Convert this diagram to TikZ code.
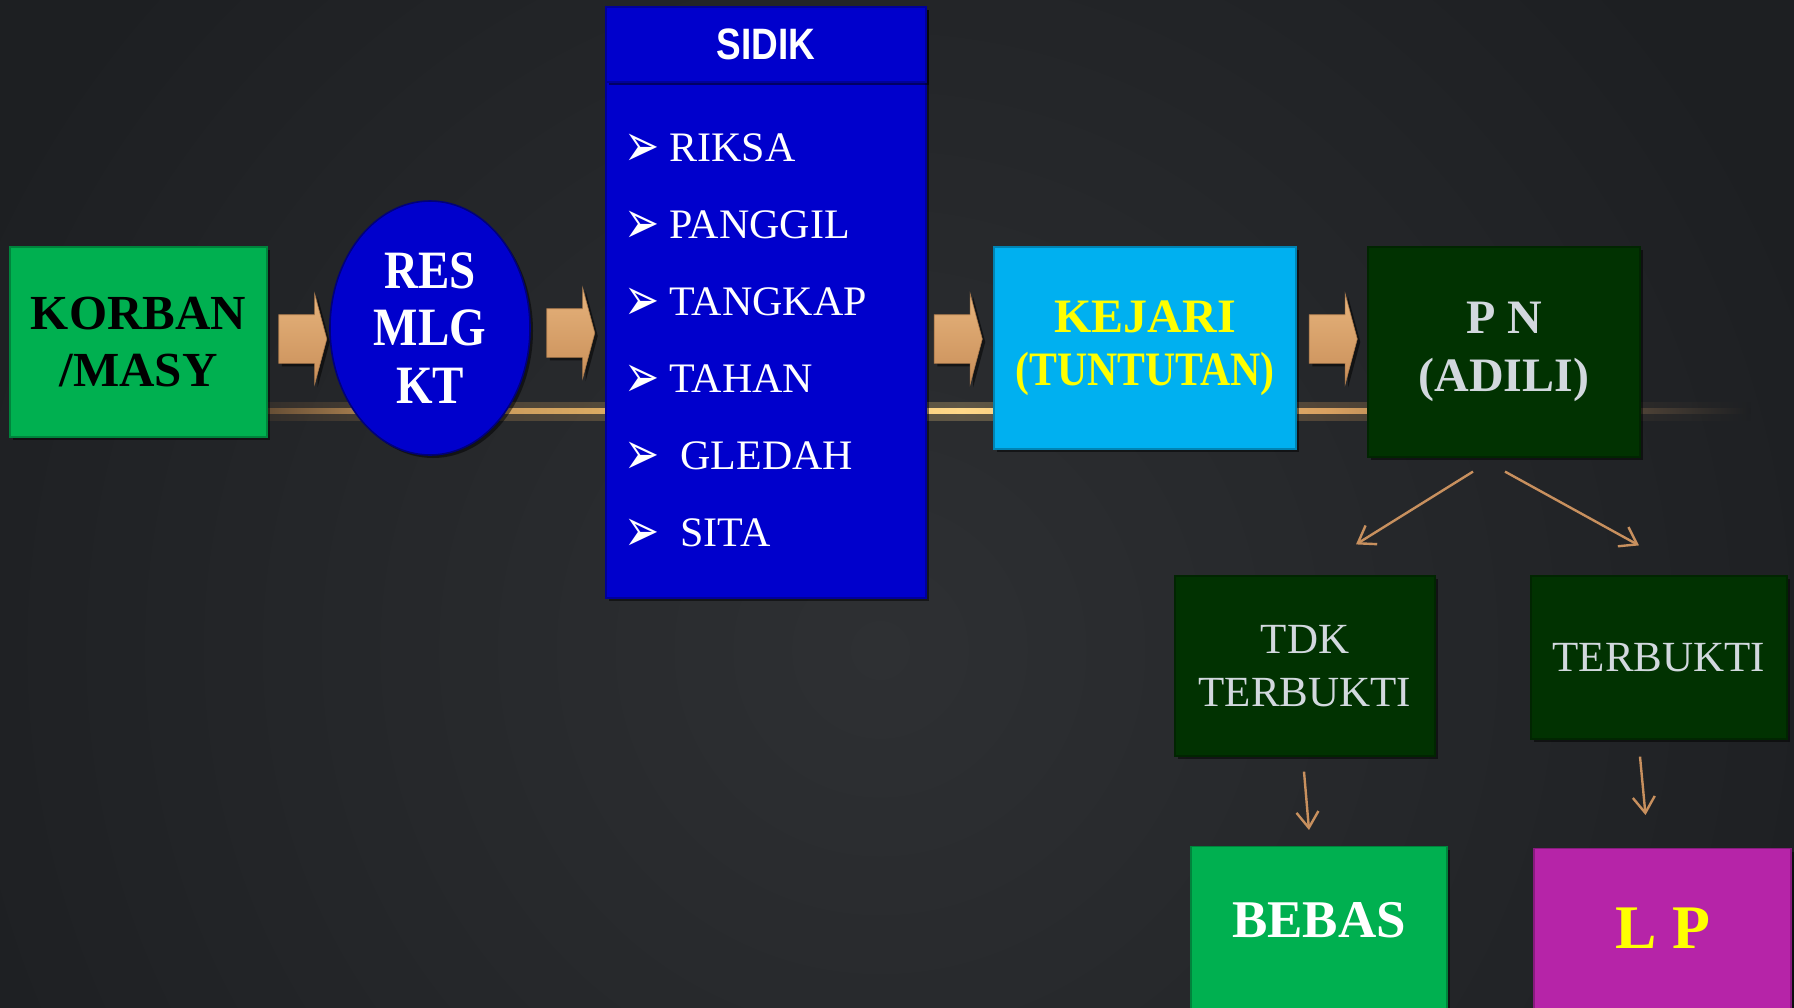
\documentclass[tikz,border=0pt]{standalone}
\usepackage{fontspec}
\setmainfont{Liberation Serif}
\newfontfamily\sempit[FakeStretch=0.87]{Liberation Serif}
\newfontfamily\sempitsans[FakeStretch=0.84]{Liberation Sans}
\newfontfamily\simbol{DejaVu Sans}
\usetikzlibrary{shapes.geometric,shapes.arrows,shadows,arrows.meta,fadings}

\definecolor{latar}{HTML}{1D1F22}
\definecolor{latarterang}{HTML}{2E3033}
\definecolor{pita}{HTML}{505256}
\definecolor{hijau}{HTML}{00B050}
\definecolor{biru}{HTML}{0000CC}
\definecolor{langit}{HTML}{00B0F0}
\definecolor{kuning}{HTML}{FFFF00}
\definecolor{hijautua}{HTML}{013201}
\definecolor{ungu}{HTML}{B624A8}
\definecolor{abu}{HTML}{D2D8DE}
\definecolor{tanmuda}{HTML}{E6B37C}
\definecolor{tantua}{HTML}{C98F59}
\definecolor{tantipis}{HTML}{C8905E}
\definecolor{g1}{HTML}{5A4530}
\definecolor{g2}{HTML}{C09058}
\definecolor{g3}{HTML}{E8B868}
\definecolor{g4}{HTML}{FFD888}
\definecolor{g5}{HTML}{D8A060}
\definecolor{g6}{HTML}{4E4236}

\pgfdeclarehorizontalshading{cahaya}{100bp}{color(0bp)=(g1); color(25bp)=(g1); color(30bp)=(g2); color(40bp)=(g3); color(48.7bp)=(g4); color(61bp)=(g5); color(71.3bp)=(g6); color(75bp)=(latar); color(100bp)=(latar)}
\tikzfading[name=tepi, left color=transparent!100, middle color=transparent!0, right color=transparent!100]

\begin{document}
\begin{tikzpicture}[x=0.5pt,y=-0.5pt,
    bayang/.style={drop shadow={opacity=0.5, fill=black, shadow xshift=1.5pt, shadow yshift=-1.5pt}},
    kotak/.style={rectangle, fill=#1, draw=#1!75!black, line width=0.6pt, inner sep=0pt, align=center, bayang},
    panah/.style={single arrow, minimum height=24pt, minimum width=45pt, text height=12pt, text depth=12pt,
      single arrow head extend=10.5pt, single arrow tip angle=150, inner sep=0pt,
      top color=tanmuda, bottom color=tantua, draw=tantua!85!black, line width=0.3pt, bayang},
    butir/.style={inner sep=0pt, text=white, font=\fontsize{21}{24}\selectfont},
    tipis/.style={draw=tantipis, line width=1.2pt, -{Straight Barb[length=8pt,width=11pt]}}]
    \useasboundingbox (0,0) rectangle (1794,1007);
    \clip (0,0) rectangle (1794,1007);
    \fill[latar] (0,0) rectangle (1794,1007);
    \shade[inner color=latarterang, outer color=latar] (880,650) circle (1000);
    \shade[top color=latar, bottom color=pita, path fading=tepi, fill opacity=0.8] (240,250) rectangle (1740,408);
    \shade[shading=cahaya, opacity=0.25] (250,402) rectangle (1750,420);
    \shade[shading=cahaya] (250,408.5) rectangle (1750,413.5);

    \node[kotak=hijau, minimum width=128.5pt, minimum height=95pt,
      font=\bfseries\fontsize{24.5}{28.5}\selectfont] (korban) at (138.5,342) {KORBAN\\/MASY};
    \node[ellipse, fill=biru, draw=biru!60!black, line width=0.8pt, minimum width=100pt, minimum height=127pt,
      inner sep=0pt, align=center, text=white, font=\sempit\bfseries\fontsize{27}{28.75}\selectfont,
      bayang] (res) at (430,328) {RES\\MLG\\KT};

    \node[kotak=biru, minimum width=160pt, minimum height=295.5pt] (sidik) at (766,302.5) {};
    \node[kotak=biru, minimum width=160pt, minimum height=37.5pt, text=white,
      font=\sempitsans\bfseries\fontsize{22}{24}\selectfont] (judul) at (766,44.5) {SIDIK};
    \foreach \teks/\gx [count=\i] in {RIKSA/669, PANGGIL/669, TANGKAP/669, TAHAN/669, GLEDAH/680, SITA/680} {
      \node[butir, anchor=base west, font=\simbol\fontsize{21}{24}\selectfont] (b\i) at (624,{84+77*\i}) {\raisebox{-2.9pt}{\scalebox{1}[1.45]{➢}}};
      \node[butir, anchor=base west] (t\i) at (\gx,{84+77*\i}) {\teks};
    }

    \node[kotak=langit, minimum width=151pt, minimum height=101pt, text=kuning,
      font=\bfseries\fontsize{24}{26.5}\selectfont] (kejari) at (1145,348) {KEJARI\\{\sempit(TUNTUTAN)}};
    \node[kotak=hijautua, minimum width=136pt, minimum height=105pt, text=abu,
      font=\bfseries\fontsize{24}{29}\selectfont] (pn) at (1504,352) {P N\\(ADILI)};

    \node[panah] (p1) at (299.5,339) {};
    \node[panah] (p2) at (567.5,333) {};
    \node[panah] (p3) at (955,339) {};
    \node[panah] (p4) at (1330,339) {};

    \node[kotak=hijautua, minimum width=130pt, minimum height=90pt, text=abu,
      font=\fontsize{21.5}{26.5}\selectfont] (tdk) at (1305,666) {TDK\\TERBUKTI};
    \node[kotak=hijautua, minimum width=128pt, minimum height=81.5pt, text=abu,
      font=\fontsize{21.5}{26.5}\selectfont] (terbukti) at (1659,657.5) {TERBUKTI};
    \node[kotak=hijau, anchor=north, minimum width=128pt, text height=18pt, text depth=19pt, inner ysep=27.5pt,
      text=white, font=\bfseries\fontsize{26.5}{30}\selectfont] (bebas) at (1319,846) {BEBAS};
    \node[kotak=ungu, anchor=north, minimum width=128.5pt, text height=22pt, text depth=13pt, inner ysep=28pt,
      text=kuning, font=\bfseries\fontsize{31}{34}\selectfont] (lp) at (1662.5,848) {L P};

    \draw[tipis] ([xshift=-15.5pt,yshift=-7pt]pn.south) -- ([xshift=25.5pt,yshift=15.5pt]tdk.north);
    \draw[tipis] ([xshift=0.5pt,yshift=-7pt]pn.south) -- ([xshift=-10pt,yshift=15pt]terbukti.north);
    \draw[tipis] ([xshift=-0.5pt,yshift=-7.5pt]tdk.south) -- ([xshift=-5pt,yshift=8pt]bebas.north);
    \draw[tipis] ([xshift=-9.5pt,yshift=-8.5pt]terbukti.south) -- ([xshift=-8.5pt,yshift=16.5pt]lp.north);
\end{tikzpicture}
\end{document}
